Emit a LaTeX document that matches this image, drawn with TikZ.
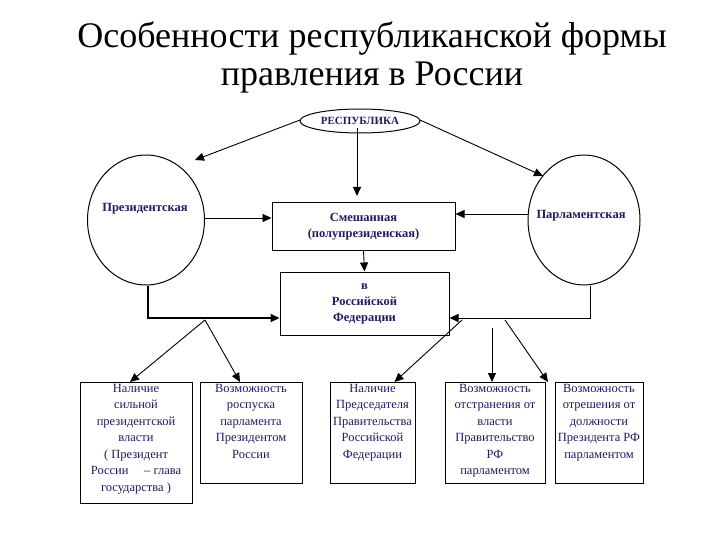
\documentclass[tikz,border=0pt]{standalone}
\usepackage{fontspec}
\setmainfont{Liberation Serif}
\usetikzlibrary{arrows.meta,shapes.geometric}
\definecolor{nav}{HTML}{1C1C5E}
\begin{document}
\begin{tikzpicture}[x=1pt,y=-1pt,
  lbl/.style={font=\fontsize{12.5}{16}\selectfont\bfseries,text=nav,align=center},
  btxt/.style={font=\fontsize{12.5}{16.5}\selectfont,text=nav,align=center,inner sep=2pt},
  ar/.style={-{Triangle[length=9pt,width=8pt]},line width=0.9pt},
  bx/.style={draw,line width=1pt}]
\useasboundingbox (0,0) rectangle (720,540);
\node[font=\fontsize{36}{38}\selectfont,align=center] (title) at (372,57) {Особенности республиканской формы\\правления в России};
\node[draw,ellipse,line width=1pt,minimum width=120,minimum height=24,inner sep=0,lbl,font=\fontsize{11}{12}\selectfont\bfseries] (rep) at (360,121) {РЕСПУБЛИКА};
\node[draw,ellipse,line width=1pt,minimum width=117,minimum height=130,inner sep=0] (pc) at (146,220) {};
\node[lbl] (pt) at (145,209) {Президентская};
\node[draw,ellipse,line width=1pt,minimum width=112,minimum height=130,inner sep=0] (rc) at (584,220) {};
\node[lbl] (rt) at (581,216) {Парламентская};
\node[bx,minimum width=183,minimum height=47,lbl] (mix) at (363.5,226.5) {Смешанная\\(полупрезиденская)};
\node[bx,minimum width=169,minimum height=63,lbl] (rf) at (364.5,303.5) {в\\Российской\\ Федерации};
\node[bx,minimum width=112,minimum height=121,anchor=north] (b1) at (136,382) {};
\node[btxt,anchor=north] at (b1.north) {Наличие\\сильной\\президентской\\власти\\( Президент\\России \quad – глава\\государства )};
\node[bx,minimum width=102,minimum height=101,anchor=north] (b2) at (251,382) {};
\node[btxt,anchor=north] at (b2.north) {Возможность\\роспуска\\парламента\\Президентом\\России};
\node[bx,minimum width=85,minimum height=101,anchor=north] (b3) at (372.5,382) {};
\node[btxt,anchor=north] at (b3.north) {Наличие\\Председателя\\Правительства\\Российской\\Федерации};
\node[bx,minimum width=100,minimum height=101,anchor=north] (b4) at (495,382) {};
\node[btxt,anchor=north] at (b4.north) {Возможность\\отстранения от\\власти\\Правительство\\РФ\\парламентом};
\node[bx,minimum width=88,minimum height=101,anchor=north] (b5) at (599,382) {};
\node[btxt,anchor=north] at (b5.north) {Возможность\\отрешения от\\должности\\Президента РФ\\парламентом};
\coordinate (r1) at (300,120); \coordinate (r2) at (420,120);
\coordinate (lc) at (148,318); \coordinate (rcn) at (590,318);
\coordinate (lb) at (205,320); \coordinate (rb) at (462,320); \coordinate (rb2) at (505,320);
\coordinate (rd) at (492,328); \coordinate (rt0) at (357,128);
\draw[ar] (r1) -- (195,160);
\draw[ar] (r2) -- (543,176);
\draw[ar] (rt0) -- (357,196);
\draw[ar] (204,218) -- (mix.west |- 0,218);
\draw[ar] (528,214) -- (mix.east |- 0,214);
\draw[ar] (mix.south) -- (rf.north);
\draw[ar,line width=1.8pt] (pc.south -| lc) |- (rf.west |- lc);
\draw[ar] (rc.south -| rcn) |- (rf.east |- rcn);
\draw[ar] (lb) -- ([xshift=-6]b1.north);
\draw[ar] (lb) -- ([xshift=-11]b2.north);
\draw[ar] (rb) -- ([xshift=22]b3.north);
\draw[ar] (rd) -- (rd |- b4.north);
\draw[ar] (rb2) -- ([xshift=-51]b5.north);
\end{tikzpicture}
\end{document}
